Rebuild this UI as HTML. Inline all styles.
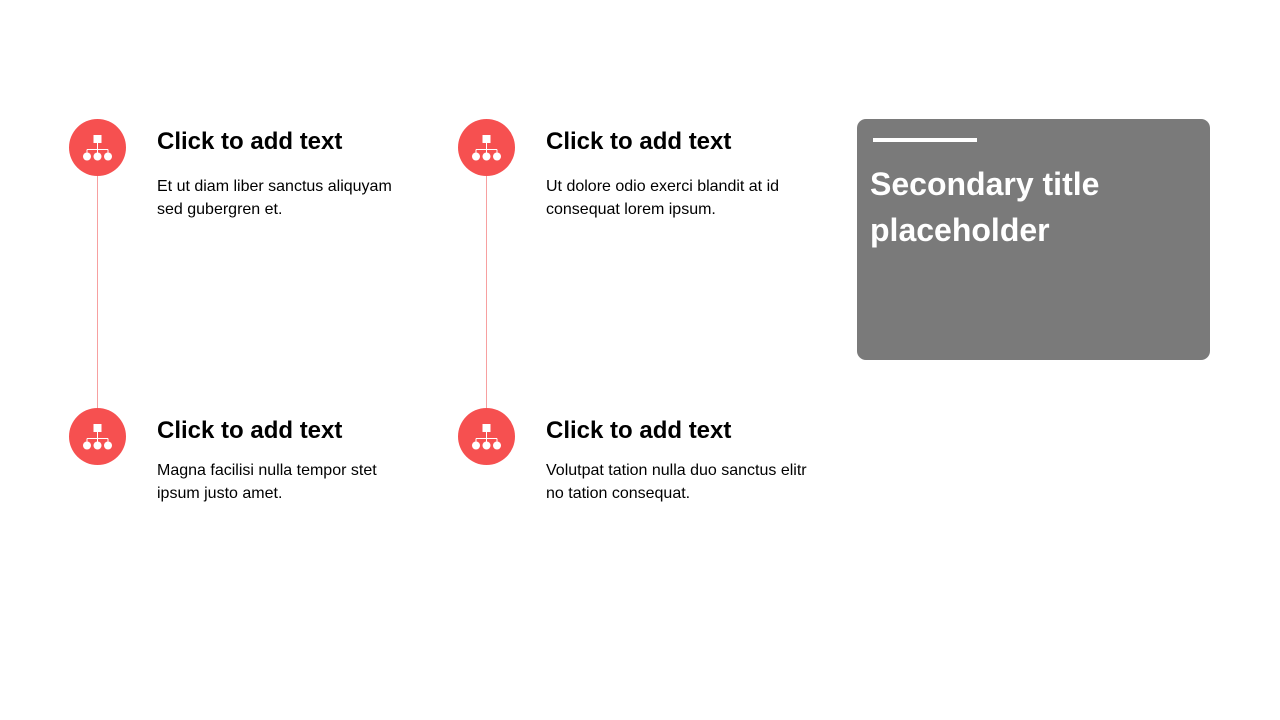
<!DOCTYPE html>
<html><head><style>
body{margin:0;width:1280px;height:720px;background:#fff;position:relative;overflow:hidden;font-family:"Liberation Sans",sans-serif}
.a{position:absolute}
h2{position:absolute;margin:0;font-size:24px;font-weight:bold;color:#000;white-space:nowrap}
p{position:absolute;margin:0;font-size:16px;line-height:23px;color:#000;white-space:nowrap}
</style></head><body>
<div class="a" style="left:97px;top:175px;width:1px;height:235px;background:#f7a0a0"></div>
<div class="a" style="left:486px;top:175px;width:1px;height:235px;background:#f7a0a0"></div>
<svg class="a" style="left:0;top:0" width="1280" height="720">
<defs><g id="ic"><circle cx="0" cy="0" r="28.5" fill="#f65050"/>
<rect x="-4" y="-12.5" width="8" height="8" fill="#fff"/>
<path d="M0 -4.5V2M-10.5 2H10.5M-10.5 2V8M0 2V8M10.5 2V8" stroke="#fff" stroke-width="1" fill="none"/>
<circle cx="-10.5" cy="9" r="4" fill="#fff"/><circle cx="0" cy="9" r="4" fill="#fff"/><circle cx="10.5" cy="9" r="4" fill="#fff"/></g></defs>
<use href="#ic" x="97.5" y="147.5"/><use href="#ic" x="486.5" y="147.5"/>
<use href="#ic" x="97.5" y="436.5"/><use href="#ic" x="486.5" y="436.5"/>
</svg>
<h2 style="left:157px;top:128px">Click to add text</h2>
<p style="left:157px;top:175px">Et ut diam liber sanctus aliquyam<br>sed gubergren et.</p>
<h2 style="left:546px;top:128px">Click to add text</h2>
<p style="left:546px;top:175px">Ut dolore odio exerci blandit at id<br>consequat lorem ipsum.</p>
<h2 style="left:157px;top:417px">Click to add text</h2>
<p style="left:157px;top:459px">Magna facilisi nulla tempor stet<br>ipsum justo amet.</p>
<h2 style="left:546px;top:417px">Click to add text</h2>
<p style="left:546px;top:459px">Volutpat tation nulla duo sanctus elitr<br>no tation consequat.</p>
<div class="a" style="left:857px;top:119px;width:353px;height:241px;background:#7a7a7a;border-radius:9px"></div>
<div class="a" style="left:873px;top:138px;width:104px;height:4px;background:#fff"></div>
<div class="a" style="left:870px;top:161px;font-size:32px;font-weight:bold;color:#fff;line-height:46px">Secondary title<br>placeholder</div>
</body></html>
